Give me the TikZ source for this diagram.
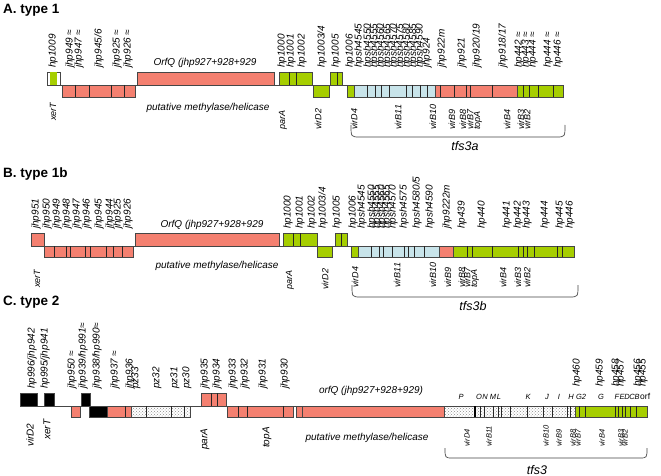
\documentclass[tikz,border=0pt]{standalone}
\usepackage{fontspec}
\setmainfont{Liberation Sans}
\usetikzlibrary{patterns}
\definecolor{gred}{RGB}{244,128,112}
\definecolor{ggreen}{RGB}{166,206,0}
\definecolor{gblue}{RGB}{200,228,234}
\definecolor{gline}{RGB}{70,70,70}
\tikzset{
  gene/.style={draw=gline, line width=0.6pt},
  redbox/.style={gene, fill=gred},
  greenbox/.style={gene, fill=ggreen},
  bluebox/.style={gene, fill=gblue},
  blackbox/.style={gene, fill=black},
  dotbox/.style={gene, preaction={fill=white}, pattern=crosshatch dots, pattern color=black!45},
  divline/.style={draw=black!85, line width=0.6pt},
  axisline/.style={draw=gline, line width=0.6pt},
  bracel/.style={draw=gline, line width=0.7pt},
  toplab/.style={rotate=90, anchor=west, inner sep=0pt, font=\fontsize{10}{10}\selectfont\itshape},
  botlab/.style={rotate=90, anchor=west, inner sep=0pt, font=\fontsize{9}{9}\selectfont\itshape},
  botbig/.style={rotate=90, anchor=west, inner sep=0pt, font=\fontsize{10}{10}\selectfont\itshape},
  botsmall/.style={rotate=90, anchor=west, inner sep=0pt, font=\fontsize{7.5}{7.5}\selectfont\itshape},
  hlab/.style={anchor=base, inner sep=0pt, font=\fontsize{10}{10}\selectfont\itshape},
  letlab/.style={anchor=base, inner sep=0pt, font=\fontsize{7.5}{7.5}\selectfont\itshape},
  tfslab/.style={anchor=base, inner sep=0pt, font=\fontsize{12.5}{12.5}\selectfont\itshape},
  titlelab/.style={anchor=base west, inner sep=0pt, font=\fontsize{13.5}{13.5}\selectfont\bfseries},
}
\newcounter{lab}
\newcommand{\TL}[3]{\stepcounter{lab}\node[toplab] (t\thelab) at (#1,#2) {#3};}
\newcommand{\BL}[4][botlab]{\stepcounter{lab}\node[#1] (b\thelab) at (#2,#3) {#4};}
\newcommand{\LL}[3]{\stepcounter{lab}\node[letlab] (c\thelab) at (#1,#2) {#3};}
\newcommand{\DV}[3]{\foreach \d in {#1} {\draw[divline] (\d,#2) -- (\d,#3);}}
\begin{document}
\begin{tikzpicture}[x=1pt,y=-1pt]
\useasboundingbox (0,0) rectangle (661,476);
\fill[white] (0,0) rectangle (661,476);

%%%%%%%%%%%%%%%% A. type 1
\node[titlelab] (titleA) at (3,13.5) {A. type 1};
\draw[axisline] (47,85) -- (563,85);
\draw[gene, fill=white] (47,72) rectangle (60,85);
\fill[ggreen] (50,72.4) rectangle (56.5,84.6);
\draw[redbox] (62,85) rectangle (135,97); \DV{75,89,111,124}{85}{97}
\draw[redbox] (137,72) rectangle (274,85);
\draw[greenbox] (279,72) rectangle (312,85); \DV{289,296}{72}{85}
\draw[greenbox] (313,85) rectangle (329,97);
\draw[greenbox] (330,72) rectangle (342,85); \DV{337}{72}{85}
\draw[greenbox] (347,85) rectangle (354,97);
\draw[bluebox] (354,85) rectangle (435,97); \DV{367,375,381,389,406,412,420,427}{85}{97}
\draw[redbox] (435,85) rectangle (517,97); \DV{440,454,466,470,492}{85}{97}
\draw[greenbox] (517,85) rectangle (563,97); \DV{523,529,538,553}{85}{97}

\TL{53}{68}{hp1009}
\TL{70}{68}{jhp949 ≈}
\TL{79}{68}{jhp947 ≈}
\TL{99}{68}{jhp945/6}
\TL{117}{68}{jhp925 ≈}
\TL{128}{68}{jhp926 ≈}
\node[hlab] (orfA) at (205,66) {OrfQ (jhp927+928+929};
\TL{282}{68}{hp1000}
\TL{291}{68}{hp1001}
\TL{302}{68}{hp1002}
\TL{322}{68}{hp1003/4}
\TL{336}{68}{hp1005}
\TL{350}{68}{hp1006}
\TL{359}{68}{hpsh4545}
\TL{368}{68}{hpsh4550}
\TL{374.5}{68}{hpsh4555}
\TL{381}{68}{hpsh4560}
\TL{387.5}{68}{hpsh4565}
\TL{394}{68}{hpsh4570}
\TL{400.5}{68}{hpsh4575}
\TL{407}{68}{hpsh4580}
\TL{413.5}{68}{hpsh4585}
\TL{420}{68}{hpsh4590}
\TL{427}{68}{jhp924}
\TL{442}{68}{jhp922m}
\TL{462}{68}{jhp921}
\TL{477}{68}{jhp920/19}
\TL{503}{68}{jhp918/17}
\TL{519}{68}{hp442 ≈}
\TL{526}{68}{hp443 ≈}
\TL{533}{68}{hp444 ≈}
\TL{548}{68}{hp444 ≈}
\TL{558}{68}{hp446 ≈}

\BL{53}{121}{xerT}
\node[hlab] (methA) at (208,111) {putative methylase/helicase};
\BL{283}{130}{parA}
\BL{318}{130}{virD2}
\BL{354}{130}{virD4}
\BL{398}{130}{virB11}
\BL{433}{130}{virB10}
\BL{452}{130}{virB9}
\BL{463}{130}{virB8}
\BL{470}{130}{virB7}
\BL{478}{130}{topA}
\BL{507}{130}{virB4}
\BL{521}{130}{virB3}
\BL{527}{130}{virB2}
\draw[bracel] (351,125) .. controls (351,137) .. (360,137) -- (556,137) .. controls (565,137) .. (565,125);
\node[tfslab] (tfsA) at (465,150) {tfs3a};

%%%%%%%%%%%%%%%% B. type 1b
\node[titlelab] (titleB) at (3,177.5) {B. type 1b};
\draw[axisline] (31,246) -- (574,246);
\draw[redbox] (31,233) rectangle (44,246);
\draw[redbox] (44,246) rectangle (133,257); \DV{54,66,70,85,90,106,113,122}{246}{257}
\draw[redbox] (135,233) rectangle (279,246);
\draw[greenbox] (283,233) rectangle (317,246); \DV{293,300}{233}{246}
\draw[greenbox] (317,246) rectangle (332,257);
\draw[greenbox] (335,233) rectangle (347,246); \DV{341}{233}{246}
\draw[greenbox] (351,246) rectangle (358,257);
\draw[bluebox] (358,246) rectangle (439,257); \DV{371,379,383,392,404,408,414,424}{246}{257}
\draw[redbox] (439,246) rectangle (453,257);
\draw[greenbox] (453,246) rectangle (574,257); \DV{467,472,492,518,523,527,534,557,562}{246}{257}

\TL{36}{229}{jhp951}
\TL{47}{229}{jhp950}
\TL{57}{229}{jhp949}
\TL{67}{229}{jhp948}
\TL{77}{229}{jhp947}
\TL{87}{229}{jhp946}
\TL{99}{229}{jhp945}
\TL{110}{229}{jhp944}
\TL{118}{229}{jhp925}
\TL{128}{229}{jhp926}
\node[hlab] (orfB) at (212,227) {OrfQ (jhp927+928+929};
\TL{288}{229}{hp1000}
\TL{300}{229}{hp1001}
\TL{312}{229}{hp1002}
\TL{323}{229}{hp1003/4}
\TL{337}{229}{hp1005}
\TL{353}{229}{hp1006}
\TL{362}{229}{hpsh4545}
\TL{372}{229}{hpsh4550}
\TL{377}{229}{hpsh4555}
\TL{382}{229}{hpsh4560}
\TL{387}{229}{hpsh4565}
\TL{393}{229}{hpsh4570}
\TL{404}{229}{hpsh4575}
\TL{417}{229}{hpsh4580/5}
\TL{430}{229}{hpsh4590}
\TL{447}{229}{jhp9222m}
\TL{462}{229}{hp439}
\TL{482}{229}{hp440}
\TL{507}{229}{hp441}
\TL{518}{229}{hp442}
\TL{527}{229}{hp443}
\TL{545}{229}{hp444}
\TL{560}{229}{hp445}
\TL{570}{229}{hp446}

\BL{37}{288}{xerT}
\node[hlab] (methB) at (217,268) {putative methylase/helicase};
\BL{290}{290}{parA}
\BL{325}{290}{virD2}
\BL{355}{288}{virD4}
\BL{397}{288}{virB11}
\BL{433}{288}{virB10}
\BL{448}{288}{virB9}
\BL{462}{288}{virB8}
\BL{467}{288}{virB7}
\BL{475}{288}{topA}
\BL{503}{288}{virB4}
\BL{518}{288}{virB3}
\BL{527}{288}{virB2}
\draw[bracel] (352,285) .. controls (352,297) .. (361,297) -- (569,297) .. controls (578,297) .. (578,285);
\node[tfslab] (tfsB) at (473,310) {tfs3b};

%%%%%%%%%%%%%%%% C. type 2
\node[titlelab] (titleC) at (3,305.5) {C. type 2};
\draw[axisline] (20,406) -- (647,406);
\draw[blackbox] (20,393) rectangle (37,406);
\draw[blackbox] (44,393) rectangle (54,406);
\draw[blackbox] (81,393) rectangle (90,406);
\draw[redbox] (71,406) rectangle (80,417);
\draw[blackbox] (89,406) rectangle (107,417);
\draw[redbox] (107,406) rectangle (131,417); \DV{125}{406}{417}
\draw[dotbox] (131,406) rectangle (190,417); \DV{146,171,184}{406}{417}
\draw[redbox] (201,393) rectangle (226,406); \DV{211,217}{393}{406}
\draw[redbox] (227,406) rectangle (293,417); \DV{238,247,283}{406}{417}
\draw[redbox] (296,406) rectangle (302,417);
\draw[redbox] (302,406) rectangle (444,417);
\draw[dotbox] (444,406) rectangle (575,417); \DV{480,484,493,498,501,510,527,543,552,567,570}{406}{417}
\draw[black, line width=1.2pt] (475,406) -- (475,417);
\draw[greenbox] (575,406) rectangle (647,417); \DV{579,585,615,618,622,625,630,636}{406}{417}

\TL{32}{389}{hp996/jhp942}
\TL{45}{389}{hp995/jhp941}
\TL{72}{389}{jhp950 ≈}
\TL{83}{389}{jhp939/hp991≈}
\TL{97}{389}{jhp938/hp990≈}
\TL{115}{389}{jhp937 ≈}
\TL{130}{389}{jhp936}
\TL{136}{389}{pz33}
\TL{157}{389}{pz32}
\TL{175}{389}{pz31}
\TL{187}{389}{pz30}
\TL{205}{389}{jhp935}
\TL{217}{389}{jhp934}
\TL{233}{389}{jhp933}
\TL{245}{389}{jhp932}
\TL{263}{389}{jhp931}
\TL{285}{389}{jhp930}
\node[hlab] (orfC) at (371,393) {orfQ (jhp927+928+929)};
\TL{577}{387}{hp460}
\TL{600}{387}{hp459}
\TL{616}{387}{hp458}
\TL{621}{387}{hp457}
\TL{638}{387}{hp456}
\TL{643}{387}{hp455}

\LL{461}{399}{P}
\LL{479}{399}{O}
\LL{485}{399}{N}
\LL{493}{399}{M}
\LL{499}{399}{L}
\LL{528}{399}{K}
\LL{547}{399}{J}
\LL{559}{399}{I}
\LL{571}{399}{H}
\LL{581}{399}{G2}
\LL{601}{399}{G}
\LL{617}{399}{F}
\LL{622}{399}{E}
\LL{627}{399}{D}
\LL{632}{399}{C}
\LL{637}{399}{B}
\node[anchor=base west, inner sep=0pt, font=\fontsize{8.5}{8.5}\selectfont] (orfword) at (640,399) {orf};

\BL[botbig]{30}{447}{virD2}
\BL[botbig]{47}{440}{xerT}
\BL[botbig]{205}{450}{parA}
\BL[botbig]{267}{448}{topA}
\node[hlab] (methC) at (367,440) {putative methylase/helicase};
\BL[botsmall]{467}{447}{virD4}
\BL[botsmall]{489}{447}{virB11}
\BL[botsmall]{546}{447}{virB10}
\BL[botsmall]{559}{447}{virB9}
\BL[botsmall]{573}{447}{virB8}
\BL[botsmall]{578}{447}{virB7}
\BL[botsmall]{602}{447}{virB4}
\BL[botsmall]{621}{447}{virB3}
\BL[botsmall]{625}{447}{virB2}
\draw[bracel] (445,448) .. controls (445,458) .. (453,458) -- (639,458) .. controls (647,458) .. (647,448);
\node[tfslab] (tfsC) at (537,474) {tfs3};
\end{tikzpicture}
\end{document}
